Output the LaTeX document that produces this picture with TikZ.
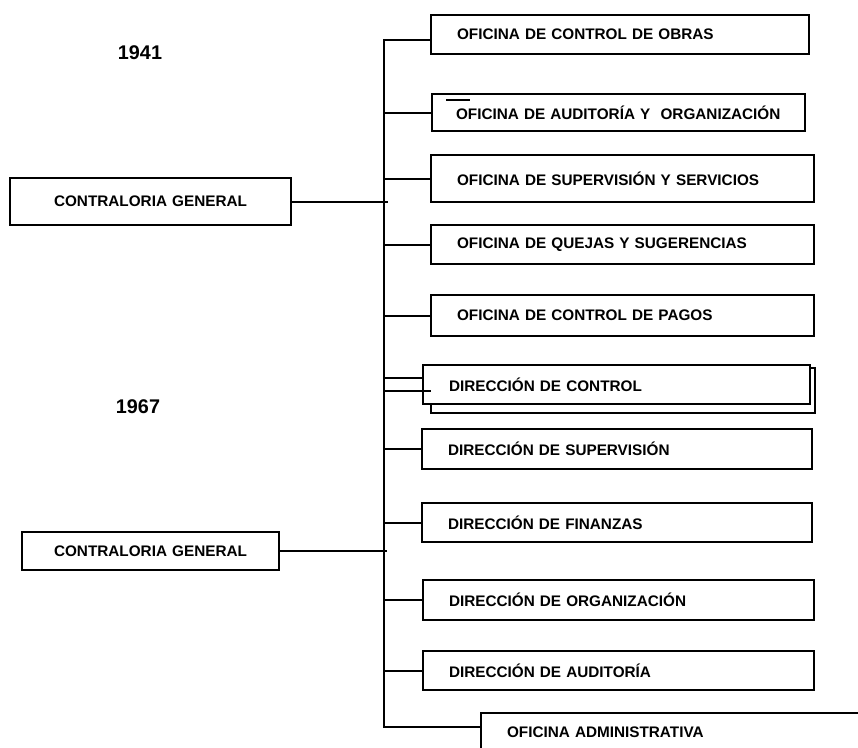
\documentclass[tikz,border=0pt]{standalone}
\usepackage{fontspec}
\newfontfamily\arialfont{Liberation Sans}
\tikzset{
  caja/.style  ={rectangle, draw=black, line width=2pt, fill=white, anchor=north west,
                 inner xsep=26pt, inner ysep=0pt, align=left,
                 font=\arialfont\bfseries\fontsize{15.3}{18}\selectfont},
  cajac/.style ={caja, align=center},
  anio/.style  ={font=\arialfont\bfseries\fontsize{19.8}{22}\selectfont, inner sep=0pt},
  linea/.style ={draw=black, line width=2pt}
}

\begin{document}
\begin{tikzpicture}[x=1pt,y=-1pt]
\clip (0,0) rectangle (858,747);

%% ---- years ----------------------------------------------------------
\node[anio] (y41) at (140,53) {1941};
\node[anio] (y67) at (138,407) {1967};

%% ---- heads ----------------------------------------------------------
\node[cajac, text width=229pt, minimum height=47pt] (contra41) at (9,177) {CONTRALORIA GENERAL};
\node[cajac, text width=205pt, minimum height=38pt] (contra67) at (21,531) {CONTRALORIA GENERAL};

%% ---- 1941 offices ---------------------------------------------------
\node[caja, text width=326pt, minimum height=39pt] (obras) at (430,14) {OFICINA DE CONTROL DE OBRAS};
\node[caja, text width=325pt, inner xsep=24pt, minimum height=37pt] (audorg) at (431,93)
  {OFICINA DE AUDITORÍA Y~ ORGANIZACIÓN};
\node[caja, text width=331pt, minimum height=47pt] (supserv) at (430,154) {OFICINA DE SUPERVISIÓN Y SERVICIOS};
\node[caja, text width=331pt, minimum height=39pt] (quejas) at (430,224) {OFICINA DE QUEJAS Y SUGERENCIAS};
\node[caja, text width=331pt, minimum height=41pt] (pagos) at (430,294) {OFICINA DE CONTROL DE PAGOS};

%% ---- 1967 offices ---------------------------------------------------
\node[caja, text width=332pt, minimum height=45pt] (dctrlb) at (430,367) {};
\node[caja, text width=335pt, minimum height=39pt] (dctrl) at (422,364) {DIRECCIÓN DE CONTROL};
\node[caja, text width=338pt, minimum height=40pt] (dsup) at (421,428) {DIRECCIÓN DE SUPERVISIÓN};
\node[caja, text width=338pt, minimum height=39pt] (dfin) at (421,502) {DIRECCIÓN DE FINANZAS};
\node[caja, text width=339pt, minimum height=40pt] (dorg) at (422,579) {DIRECCIÓN DE ORGANIZACIÓN};
\node[caja, text width=339pt, minimum height=39pt] (daud) at (422,650) {DIRECCIÓN DE AUDITORÍA};
\node[caja, text width=368pt, minimum height=38pt] (admin) at (480,712) {OFICINA ADMINISTRATIVA};

%% ---- trunk and branches ---------------------------------------------
\coordinate (bot) at (384,727);
\coordinate (dc) at ([yshift=6.5pt]dctrl.west);
\draw[linea] ([yshift=-5.5pt]obras.west) -| (bot) -- (bot -| admin.west);
\foreach \n in {audorg,supserv,quejas,pagos,dsup,dfin,dorg,daud}
  \draw[linea] (bot |- \n.west) -- (\n.west);
\draw[linea] (bot |- dc) -- (dc);
\draw[linea] (bot |- dctrlb.west) -- ([xshift=1pt]dctrlb.west);
\draw[linea] (contra41.east) -- ([xshift=4pt]bot |- contra41.east);
\draw[linea] (contra67.east) -- ([xshift=3pt]bot |- contra67.east);
\draw[linea] ([xshift=15pt,yshift=-7pt]audorg.north west) -- ++(24,0);
\end{tikzpicture}
\end{document}
